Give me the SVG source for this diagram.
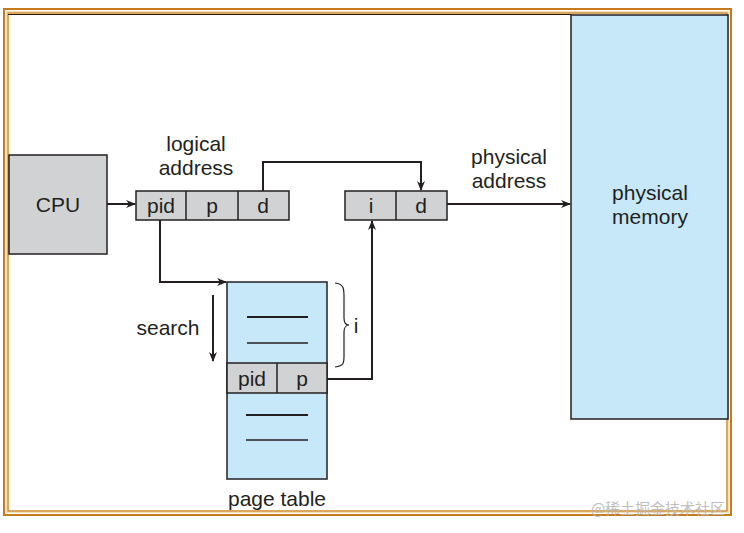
<svg xmlns="http://www.w3.org/2000/svg" width="744" height="533" viewBox="0 0 744 533">
<defs>
<style>
.t{font-family:"Liberation Sans",Arial,sans-serif;font-size:21px;fill:#231f20;text-anchor:middle}
.g{fill:#d1d2d4;stroke:#231f20;stroke-width:1.5}
.b{fill:#c6e8f9;stroke:#231f20;stroke-width:1.5}
.c{fill:none;stroke:#231f20;stroke-width:2}
.l{stroke:#231f20;stroke-width:1.5}
</style>
<marker id="a" viewBox="0 0 10 10" refX="9" refY="5" markerWidth="10" markerHeight="10" markerUnits="userSpaceOnUse" orient="auto">
<path d="M0,1 L10,5 L0,9 L3,5 Z" fill="#231f20"/>
</marker>
</defs>
<rect width="744" height="533" fill="#fff"/>
<g id="frame">
<rect x="4" y="9" width="727" height="506" fill="none" stroke="#c97a1c" stroke-width="2"/>
<rect x="6.5" y="11.5" width="722" height="501" fill="none" stroke="#f3dfb8" stroke-width="1"/>
<rect x="8" y="13" width="719" height="498" fill="none" stroke="#d08a2c" stroke-width="1.5"/>
<line x1="8" y1="14.5" x2="571" y2="14.5" stroke="#2a1a10" stroke-width="1"/>
</g>
<g id="memory">
<rect class="b" x="571" y="15" width="157" height="404"/>
<text class="t" x="650" y="200">physical</text>
<text class="t" x="650" y="224">memory</text>
</g>
<g id="cpu">
<rect class="g" x="9" y="155" width="98" height="99"/>
<text class="t" x="58" y="212">CPU</text>
</g>
<g id="logical">
<rect class="g" x="136" y="191" width="153" height="29"/>
<line class="l" x1="186" y1="191" x2="186" y2="220"/>
<line class="l" x1="238" y1="191" x2="238" y2="220"/>
<text class="t" x="161" y="213">pid</text>
<text class="t" x="212" y="213">p</text>
<text class="t" x="263" y="213">d</text>
<text class="t" x="196" y="151">logical</text>
<text class="t" x="196" y="175">address</text>
</g>
<g id="physaddr">
<rect class="g" x="345" y="191" width="102" height="29"/>
<line class="l" x1="396" y1="191" x2="396" y2="220"/>
<text class="t" x="371" y="213">i</text>
<text class="t" x="421" y="213">d</text>
<text class="t" x="509" y="164">physical</text>
<text class="t" x="509" y="188">address</text>
</g>
<g id="pagetable">
<rect class="b" x="227" y="282" width="100" height="197"/>
<rect class="g" x="227" y="363" width="100" height="30"/>
<line class="l" x1="277" y1="363" x2="277" y2="393"/>
<text class="t" x="252" y="386">pid</text>
<text class="t" x="302" y="386">p</text>
<line class="c" x1="247" y1="317" x2="308" y2="317"/>
<line class="l" x1="247" y1="343" x2="308" y2="343"/>
<line class="c" x1="246" y1="415" x2="308" y2="415"/>
<line class="l" x1="246" y1="440" x2="308" y2="440"/>
<text class="t" x="277" y="506">page table</text>
</g>
<g id="search">
<text class="t" x="168" y="335">search</text>
<path d="M335,283 C345,284 344,290 344,300 L344,318 C344,323 346,325 349,325 C346,325 344,328 344,332 L344,352 C344,362 345,366 335,367" fill="none" stroke="#231f20" stroke-width="1.2"/>
<text class="t" x="356" y="333">i</text>
</g>
<g id="connectors">
<line class="c" x1="107" y1="204" x2="135" y2="204" marker-end="url(#a)"/>
<polyline class="c" points="263,191 263,162 421,162 421,190" marker-end="url(#a)"/>
<line class="c" x1="447" y1="204" x2="570" y2="204" marker-end="url(#a)"/>
<polyline class="c" points="160,220 160,282 226,282" marker-end="url(#a)"/>
<line class="c" x1="213" y1="295" x2="213" y2="361" marker-end="url(#a)"/>
<polyline class="c" points="327,379 372,379 372,221" marker-end="url(#a)"/>
</g>
<text x="658" y="514" font-family="'Noto Sans CJK SC','Liberation Sans',sans-serif" font-size="15" fill="#b9b9b9" text-anchor="middle" opacity="0.9">@稀土掘金技术社区</text>
</svg>
